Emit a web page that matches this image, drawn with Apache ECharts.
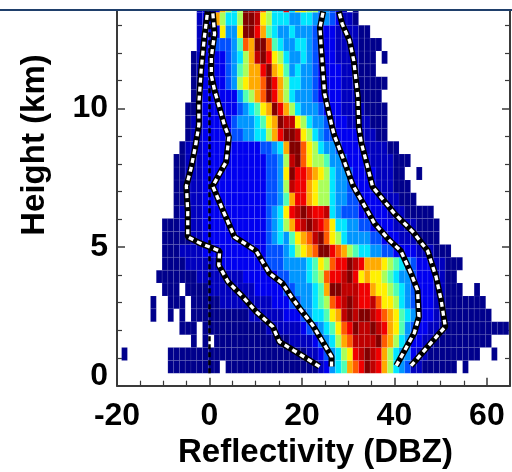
<!DOCTYPE html>
<html>
<head>
<meta charset="utf-8">
<script src="https://cdn.jsdelivr.net/npm/echarts@6/dist/echarts.min.js"></script>
<style>
  html, body { margin: 0; background: #fff; }
  #chart { width: 512px; height: 472px; filter: blur(0.45px); }
</style>
</head>
<body>
<div id="chart"></div>
<script>
// reflectivity bins, dBZ
const binStart = -19;
const binWidth = 1.25;
// height bins, km
const rowStart = 0.447;
const rowHeight = 0.465;

// colour level of each cell, one string per height row, lowest row first
// 1 (navy) .. e (dark red), "." is an empty bin; blocks are 10 bins wide
const cfadRows = [
  "........11 1111111.11 1111111111 111123567a bcedca8654 22111111.1 .......",
  "1.......11 1111111111 1111111111 1122345689 cdedca8655 3221111111 11..1..",
  ".......... ..1.1.1111 1111111112 22234568ab ddddeba865 3322111111 1111...",
  ".......... 111.111111 1111122222 23445679bc eddedca975 4332211111 1111111",
  ".....1..1. 1.11111111 1122222233 3456679ade deedcba976 5333221111 1111...",
  ".....1..11 1.11111222 2222223334 455678bcde dccdb99865 4333221111 111....",
  ".......111 .111122222 2223333344 55567aeedd dcca998765 433322111. .1.....",
  "......1111 1112222222 2333333445 55678bccde c9a9987655 43332211.. .......",
  ".......111 1222222333 3333344455 556798bcce dcaaa98765 433322111. .......",
  ".......111 2222333333 3333344456 89abeecba8 7665544333 3222111... .......",
  ".......111 1122333333 3333345657 9abdeb9865 5554433322 21111..... .......",
  ".......111 2222333333 333334568a cdedcb9665 5443333222 21111..... .......",
  ".........1 2222333333 333334569c dedccd6544 4333332221 1111...... .......",
  ".........1 1222333333 333334457a cca9886554 4333322211 1......... .......",
  ".........1 1222333333 333334458d cca9886554 3333222111 .......... .......",
  ".........1 1222333333 333334459e ccba986554 333322211. .1........ .......",
  ".........1 1222333333 333334458d eb98875543 3332222111 .......... .......",
  ".......... 1222333333 33334456ae eb98655433 33222211.. .......... .......",
  ".......... .122333334 455668acee d986544333 322211.... .......... .......",
  ".......... .122333334 555679aedd 9865543332 222111.... .......... .......",
  ".......... .112333333 45679aeca8 6555433322 221111.... .......... .......",
  ".......... ..12333333 578abeca86 5554333322 21111..... .......... .......",
  ".......... ..12333345 89aabeca86 6554333322 211111.... .......... .......",
  ".......... ..12333345 78aacea975 6554333322 2111...... .......... .......",
  ".......... ..12333345 68adec9865 5654333222 2111.1.... .......... .......",
  ".......... ...2334445 7baeeb7655 6654333222 21111..... .......... .......",
  ".......... ...2333955 9eeca76556 5554333222 211....... .......... .......",
  ".......... ...233a866 8eed986665 5665454322 1......... .......... .......",
  ".......... ...2333a86 8eddb866c6 998855432. 1......... .......... ......."
];
const levelColors = ["#ffffff", "#00008c", "#0000bf", "#0000f0", "#0050ff", "#0096ff", "#00e6ff",
  "#50ffb4", "#aaff5a", "#fff000", "#ffaa00", "#ff5a00", "#f00000", "#be0000", "#820000"];

// the four percentile curves, [dBZ, km]
const curveA = [[23.8,0.69],[19.5,1.14],[15.1,1.59],[13.7,2.13],[10.1,2.67],[7.2,3.21],[4.0,3.75],[2.0,4.35],[2.2,4.86],[-2.2,5.15],[-4.7,5.37],[-4.7,6.27],[-5.0,7.2],[-4.0,7.83],[-3.0,8.67],[-2.3,9.39],[-2.3,10.17],[-1.8,11.37],[-1.1,12.57],[-0.4,13.5]];
const curveB = [[26.4,0.69],[26.4,1.05],[22.3,2.19],[19.5,2.79],[17.7,3.21],[15.8,3.69],[13.0,4.05],[10.1,4.86],[5.4,5.37],[3.2,6.21],[0.7,7.2],[3.6,8.07],[4.2,8.97],[3.2,9.42],[1.1,10.65],[0.4,11.19],[0.4,11.85],[1.1,12.69],[0.7,13.5]];
const curveC = [[40.4,0.72],[44.3,1.9],[45.3,2.49],[45.0,3.45],[43.6,4.05],[41.4,4.86],[38.9,5.25],[35.7,5.85],[31,7.23],[29.2,8.07],[27,9.03],[26.5,9.35],[24.9,10.53],[24.2,12.09],[23.9,12.92],[24.6,13.5]];
const curveD = [[43.6,0.72],[51,2.13],[50.1,3.09],[49,3.93],[47.2,4.86],[44,5.55],[40,6.21],[35.3,7.17],[34.2,7.89],[32.8,8.79],[32.3,9.35],[32.1,10.41],[31.2,11.73],[30.3,12.45],[28.7,13.05],[28,13.5]];
const zeroLine = [[0,0.447],[0,13.5]];

const cells = [];
cfadRows.forEach((row, r) => {
  row.replace(/ /g, "").split("").forEach((ch, i) => {
    if (ch !== ".") cells.push([binStart + i * binWidth, rowStart + r * rowHeight, parseInt(ch, 16)]);
  });
});

const fontFamily = "'Liberation Sans', Arial, sans-serif";
const labelStyle = { color: "#000", fontFamily, fontWeight: "bold", fontSize: 32 };
const axisInk = "#3a3a3a";

function axisBase(extra) {
  return Object.assign({
    type: "value",
    axisLine: { show: true, onZero: false, lineStyle: { color: axisInk, width: 2 } },
    axisTick: { show: true, inside: true, length: 8, lineStyle: { color: axisInk, width: 1.5 } },
    splitLine: { show: false },
    minorSplitLine: { show: false },
  }, extra);
}
const minorTick = (n) => ({ show: true, splitNumber: n, length: 5, lineStyle: { color: axisInk, width: 1.2 } });

function renderCell(params, api) {
  const x = api.value(0), y = api.value(1);
  const a = api.coord([x, y + rowHeight]);
  const b = api.coord([x + binWidth, y]);
  return {
    type: "rect",
    shape: { x: a[0], y: a[1], width: b[0] - a[0], height: b[1] - a[1] },
    style: { fill: levelColors[api.value(2)], stroke: "rgba(255,255,255,0.1)", lineWidth: 0.7 },
  };
}

function dashedCurve(points) {
  return [
    { type: "line", data: points, showSymbol: false, silent: true, z: 5,
      lineStyle: { color: "#000", width: 6 } },
    { type: "line", data: points, showSymbol: false, silent: true, z: 6,
      lineStyle: { color: "#fff", width: 3.3, type: [5, 4] } },
  ];
}

const chart = echarts.init(document.getElementById("chart"));
chart.setOption({
  animation: false,
  backgroundColor: "#fff",
  grid: { left: 117, right: 2, top: 10, bottom: 86.3, outerBoundsMode: "none" },
  xAxis: [
    axisBase({ min: -20, max: 65, interval: 20, position: "bottom",
      minorTick: minorTick(4),
      axisLabel: Object.assign({ margin: 14, showMaxLabel: false }, labelStyle),
      name: "Reflectivity (DBZ)", nameLocation: "middle", nameGap: 48,
      nameTextStyle: Object.assign({}, labelStyle, { fontSize: 33, padding: [0, 0, 0, 4] }) }),
  ],
  yAxis: [
    axisBase({ min: 0, max: 13.55, interval: 5, position: "left",
      minorTick: minorTick(5),
      axisLabel: Object.assign({ margin: 9, showMaxLabel: false, lineHeight: 20, padding: [4, 0, 0, 0],
        verticalAlignMinLabel: "bottom" }, labelStyle) }),
    axisBase({ min: 0, max: 13.55, interval: 5, position: "right",
      minorTick: minorTick(5),
      axisLabel: { show: false } }),
  ],
  series: [
    { type: "custom", renderItem: renderCell, data: cells, clip: true, silent: true, z: 2,
      encode: { x: 0, y: 1 } },
    { type: "line", data: zeroLine, showSymbol: false, silent: true, z: 4,
      lineStyle: { color: "#000", width: 2.5, type: [5, 3] } },
    ...dashedCurve(curveA),
    ...dashedCurve(curveB),
    ...dashedCurve(curveC),
    ...dashedCurve(curveD),
  ],
  graphic: [
    { type: "rect", shape: { x: 0, y: 9, width: 512, height: 2 }, style: { fill: "#1f3f6b" }, z: 20 },
    { type: "text", x: 35, y: 145, rotation: Math.PI / 2, z: 20,
      style: { text: "Height (km)", fill: "#000", font: "bold 33px " + fontFamily, align: "center", verticalAlign: "middle" } },
  ],
});
</script>
</body>
</html>
